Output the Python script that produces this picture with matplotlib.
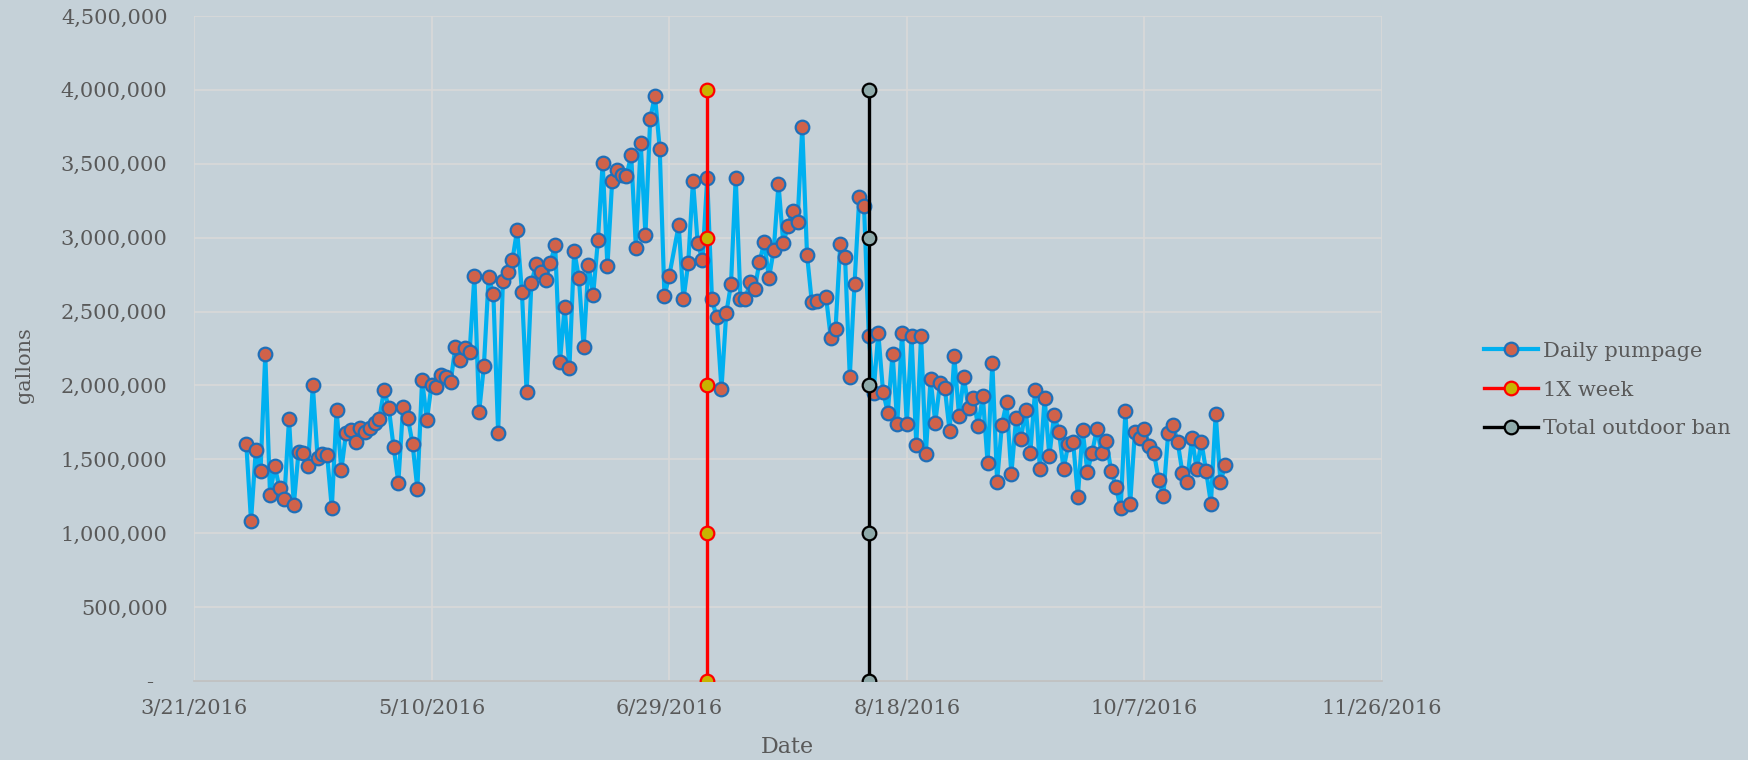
import datetime as dt
import matplotlib
matplotlib.use("Agg")
import matplotlib.pyplot as plt
import matplotlib.dates as mdates

# ---------------- data ----------------
series_start = "2016-04-01"
# one value per day from series_start; None = no reading that day
daily_pumpage = [
    1607000, 1082000, 1562000, 1420000, 2211000, 1260000, 1454000, 1303000, 1231000, 1774000,
    1190000, 1553000, 1542000, 1454000, 2003000, 1512000, 1535000, 1532000, 1168000, 1832000,
    1427000, 1679000, 1701000, 1620000, 1713000, 1686000, 1715000, 1744000, 1774000, 1972000,
    1846000, 1584000, 1343000, 1857000, 1782000, 1603000, 1301000, 2039000, 1765000, 2006000,
    1988000, 2069000, 2059000, 2024000, 2258000, 2172000, 2255000, 2226000, 2738000, 1821000,
    2130000, 2731000, 2618000, 1677000, 2704000, 2767000, 2848000, 3053000, 2634000, 1954000,
    2695000, 2819000, 2769000, 2711000, 2828000, 2951000, 2157000, 2530000, 2116000, 2913000,
    2728000, 2258000, 2816000, 2614000, 2983000, 3505000, 2805000, 3386000, 3458000, 3427000,
    3418000, 3557000, 2927000, 3643000, 3017000, 3805000, 3961000, 3603000, 2605000, 2740000,
    None, 3084000, 2582000, 2826000, 3386000, 2961000, 2848000, 3404000, 2582000, 2461000,
    1976000, 2488000, 2684000, 3407000, 2582000, 2582000, 2697000, 2652000, 2837000, 2968000,
    2726000, 2918000, 3364000, 2961000, 3082000, 3179000, 3107000, 3747000, 2886000, 2566000,
    2573000, None, 2600000, 2323000, 2380000, 2958000, 2870000, 2059000, 2688000, 3274000,
    3215000, 2336000, 1951000, 2355000, 1958000, 1816000, 2215000, 1742000, 2357000, 1738000,
    2334000, 1596000, 2334000, 1537000, 2042000, 1749000, 2019000, 1981000, 1693000, 2197000,
    1792000, 2057000, 1846000, 1914000, 1724000, 1931000, 1474000, 2154000, 1348000, 1731000,
    1886000, 1400000, 1777000, 1639000, 1832000, 1546000, 1968000, 1436000, 1914000, 1522000,
    1801000, 1688000, 1434000, 1607000, 1618000, 1247000, 1699000, 1416000, 1546000, 1706000,
    1546000, 1623000, 1422000, 1316000, 1168000, 1828000, 1197000, 1688000, 1643000, 1704000,
    1591000, 1544000, 1362000, 1255000, 1675000, 1735000, 1618000, 1409000, 1348000, 1647000,
    1434000, 1616000, 1418000, 1201000, 1810000, 1346000, 1461000,
]

one_x_week_date = "2016-07-07"
outdoor_ban_date = "2016-08-10"
event_levels = [0, 1000000, 2000000, 3000000, 4000000]

series_names = ["Daily pumpage", "1X week", "Total outdoor ban"]

x_tick_dates = ["2016-03-21", "2016-05-10", "2016-06-29", "2016-08-18", "2016-10-07", "2016-11-26"]
x_tick_labels = ["3/21/2016", "5/10/2016", "6/29/2016", "8/18/2016", "10/7/2016", "11/26/2016"]
y_ticks = [0, 500000, 1000000, 1500000, 2000000, 2500000, 3000000, 3500000, 4000000, 4500000]
y_tick_labels = ["-  ", "500,000", "1,000,000", "1,500,000", "2,000,000", "2,500,000",
                 "3,000,000", "3,500,000", "4,000,000", "4,500,000"]

# ---------------- build ----------------
def d(s):
    return dt.datetime.strptime(s, "%Y-%m-%d")

start = d(series_start)
pump_dates, pump_vals = [], []
for i, v in enumerate(daily_pumpage):
    if v is not None:
        pump_dates.append(start + dt.timedelta(days=i))
        pump_vals.append(v)

W, H, DPI = 1748, 760, 100
BG = "#C5D1D8"
TXT = "#595959"
FONT = ["DejaVu Serif"]
FS = 15

plt.rcParams["font.family"] = FONT
fig = plt.figure(figsize=(W / DPI, H / DPI), dpi=DPI, facecolor=BG)
ax = fig.add_axes([194 / W, 1 - 681 / H, (1382 - 194) / W, (681 - 16) / H])
ax.set_facecolor(BG)

ax.plot(pump_dates, pump_vals, color="#00B0F0", lw=3.0, marker="o", ms=9.8,
        mfc="#D0624A", mec="#1F6FB8", mew=1.6, label=series_names[0], zorder=3)
ax.plot([d(one_x_week_date)] * len(event_levels), event_levels, color="#FF0000", lw=2.4,
        marker="o", ms=9.8, mfc="#C8B400", mec="#FF0000", mew=1.6,
        label=series_names[1], zorder=4)
ax.plot([d(outdoor_ban_date)] * len(event_levels), event_levels, color="#000000", lw=2.4,
        marker="o", ms=9.8, mfc="#8FAAAA", mec="#000000", mew=1.6,
        label=series_names[2], zorder=5)

ax.set_xlim(d(x_tick_dates[0]), d(x_tick_dates[-1]))
ax.set_ylim(y_ticks[0], y_ticks[-1])
ax.set_xticks([d(s) for s in x_tick_dates])
ax.set_xticklabels(x_tick_labels)
ax.set_yticks(y_ticks)
ax.set_yticklabels(y_tick_labels)

ax.grid(True, color="#D9D9D9", lw=1.2)
ax.set_axisbelow(True)
for s in ["top", "right", "left"]:
    ax.spines[s].set_visible(False)
ax.spines["bottom"].set_color("#BFBFBF")
ax.spines["bottom"].set_linewidth(1.2)
ax.tick_params(axis="both", length=0, labelsize=FS, labelcolor=TXT)
ax.tick_params(axis="y", pad=19)
ax.tick_params(axis="x", pad=13)

fig.text(24.5 / W, 1 - 365 / H, "gallons", rotation=90, ha="center", va="center",
         fontsize=FS, color=TXT)
fig.text(787 / W, 1 - 747 / H, "Date", ha="center", va="center", fontsize=FS + 1, color=TXT)

leg = fig.legend(loc="center left", bbox_to_anchor=(1484 / W, 1 - 390 / H),
                 frameon=False, fontsize=FS, handlelength=2.6, handletextpad=0.25,
                 labelspacing=0.95, borderpad=0, borderaxespad=0)
for t in leg.get_texts():
    t.set_color(TXT)

fig.savefig("out.png", dpi=DPI, facecolor=BG)
